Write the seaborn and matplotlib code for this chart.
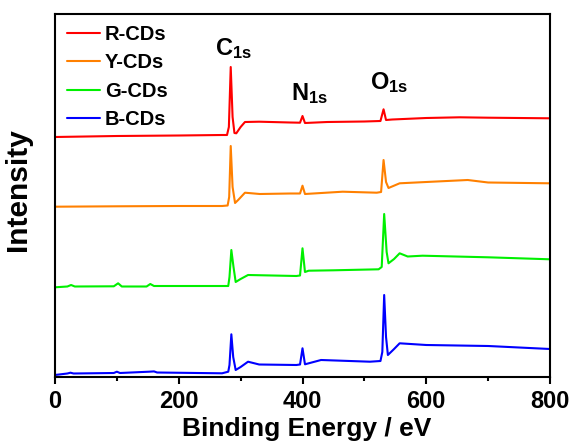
import pandas as pd
import matplotlib
matplotlib.use('Agg')
import matplotlib.pyplot as plt
from matplotlib.ticker import MultipleLocator
import seaborn as sns

# XPS survey spectra (binding energy in eV, intensity in a.u.)
r_ev = [0, 100, 200, 270, 278, 281, 284, 287, 290, 293, 300, 307, 330, 380, 396, 400, 404,
        440, 500, 526, 531, 535, 545, 600, 654, 700, 750, 800]
r_int = [240, 241, 241.5, 242, 242, 250, 310, 260, 244, 243.7, 250, 255, 255.3, 254.5, 254.3,
         261, 254, 255, 255.5, 256, 267.7, 257, 257.5, 259, 259.7, 259.3, 259, 258.7]

y_ev = [0, 100, 200, 270, 279, 281.5, 284, 287, 291, 296, 307, 331, 380, 396, 400, 404,
        465, 520, 527, 531, 535, 539, 557, 600, 667, 700, 800]
y_int = [170.3, 170.7, 171, 171, 171.5, 180, 231, 190, 174, 177, 184.3, 183, 183.5, 183.5,
         191.3, 183, 185.3, 184.3, 185, 217, 195, 189, 193.7, 195, 197, 194.5, 193.7]

g_ev = [0, 20, 26, 32, 95, 102, 108, 148, 154, 160, 268, 280, 282, 285, 288.5, 292, 300, 312,
        390, 396, 400, 404, 410, 450, 523, 528, 532, 536, 539, 548, 557, 570, 594, 700, 800]
g_int = [89.7, 90.5, 92, 90.5, 90.7, 93.7, 90.5, 90.5, 93, 91, 91, 91, 100, 127, 110, 95, 98,
         102, 101, 101.5, 128.7, 105, 106.3, 106.7, 107.7, 110, 163, 125, 113.7, 118, 123.7,
         120.5, 121.3, 119.7, 117.7]

b_ev = [0, 20, 25, 30, 95, 100, 105, 152, 160, 165, 270, 280, 282, 285, 288, 292, 300, 312,
        330, 390, 396, 400, 404, 430, 509, 526, 529, 532, 535, 538, 548, 557, 600, 700, 800]
b_int = [2, 3.5, 4.3, 3.5, 4, 5.3, 4, 5.3, 5.6, 4.5, 3.7, 5.3, 12, 42.7, 20, 7, 10, 15.3,
         12.5, 12, 12.5, 28.7, 12.7, 17, 15.3, 16, 25, 82, 40, 22, 28, 33.7, 32, 31, 28]

samples = ['R-CDs', 'Y-CDs', 'G-CDs', 'B-CDs']
colors = ['#FF0000', '#FF8000', '#00F000', '#0000FF']
peak_labels = ['C', 'N', 'O']
peak_ev = [288, 412, 540]
peak_int = [316, 271, 282]

frames = []
for name, ev, inten in zip(samples, [r_ev, y_ev, g_ev, b_ev], [r_int, y_int, g_int, b_int]):
    frames.append(pd.DataFrame({'Binding Energy': ev, 'Intensity': inten, 'Sample': name}))
df = pd.concat(frames, ignore_index=True)

sns.set_theme(style='ticks')
plt.rcParams['font.family'] = ['Liberation Sans', 'DejaVu Sans']
plt.rcParams['font.weight'] = 'bold'
plt.rcParams['text.color'] = 'black'
plt.rcParams['axes.labelcolor'] = 'black'
plt.rcParams['xtick.color'] = 'black'
plt.rcParams['mathtext.fontset'] = 'custom'
plt.rcParams['mathtext.bf'] = 'Liberation Sans:bold'
plt.rcParams['mathtext.rm'] = 'Liberation Sans:bold'

fig = plt.figure(figsize=(5.76, 4.44), dpi=100)
ax = fig.add_axes([55 / 576, 67 / 444, 495 / 576, 363 / 444])

sns.lineplot(data=df, x='Binding Energy', y='Intensity', hue='Sample', hue_order=samples,
             palette=dict(zip(samples, colors)), linewidth=1.5, ax=ax, legend=False)

ax.set_xlim(0, 800)
ax.set_ylim(0, 363)
ax.xaxis.set_major_locator(MultipleLocator(200))
ax.xaxis.set_minor_locator(MultipleLocator(100))
ax.set_yticks([])
ax.tick_params(axis='x', which='major', direction='out', length=5, width=1.5,
               labelsize=17, pad=4, color='black', labelcolor='black')
ax.tick_params(axis='x', which='minor', direction='out', length=3, width=1.5, color='black')
for lab in ax.get_xticklabels():
    lab.set_fontweight('bold')
for sp in ax.spines.values():
    sp.set_visible(True)
    sp.set_linewidth(1.5)
    sp.set_color('black')

ax.set_xlabel('Binding Energy / eV', fontsize=19, fontweight='bold', color='black')
ax.set_ylabel('Intensity', fontsize=21.5, fontweight='bold', color='black')
ax.xaxis.set_label_coords(0.509, -0.11)
ax.yaxis.set_label_coords(-0.046, 0.515)

for lab, x, y in zip(peak_labels, peak_ev, peak_int):
    ax.text(x, y, r'$\mathbf{%s_{1s}}$' % lab, fontsize=17, ha='center', va='bottom',
            color='black')

handles = [plt.Line2D([], [], color=c, linewidth=1.5) for c in colors]
leg = ax.legend(handles, samples, loc='upper left', bbox_to_anchor=(0.024, 0.97), frameon=False,
                prop={'weight': 'bold', 'size': 14.5}, handlelength=1.64,
                handletextpad=0.25, labelspacing=0.47, borderpad=0, borderaxespad=0)
for t in leg.get_texts():
    t.set_color('black')

fig.savefig('out.png', dpi=100)
